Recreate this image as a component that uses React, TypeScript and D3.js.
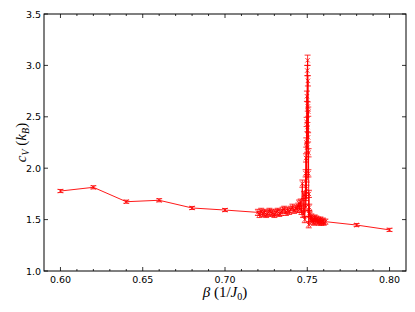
import * as d3 from 'd3';
import React from 'react';

// beta (1/J0) samples: coarse sweep, dense scan around the transition, coarse tail
const betas = [
  0.60, 0.62, 0.64, 0.66, 0.68, 0.70,
  0.720, 0.721, 0.722, 0.723, 0.724, 0.725, 0.726, 0.727, 0.728, 0.729,
  0.730, 0.731, 0.732, 0.733, 0.734, 0.735, 0.736, 0.737, 0.738, 0.739,
  0.740, 0.741, 0.742, 0.743, 0.744,
  0.7445, 0.745, 0.7455, 0.746, 0.7465, 0.747, 0.7475, 0.748, 0.7485,
  0.7490, 0.7491, 0.7492, 0.7493, 0.7494, 0.7495, 0.7496, 0.7497, 0.7498, 0.7499,
  0.7500, 0.7501, 0.7502, 0.7503, 0.7504, 0.7505, 0.7506, 0.7507, 0.7508, 0.7509,
  0.7510, 0.7511, 0.7512,
  0.7515, 0.7520, 0.7525, 0.7530, 0.7535, 0.7540, 0.7545, 0.7550, 0.7555, 0.7560,
  0.7565, 0.7570, 0.7575, 0.7580, 0.7585, 0.7590, 0.7595, 0.7600, 0.7610,
  0.78, 0.80,
];

// specific heat c_V (k_B)
const cv = [
  1.778, 1.814, 1.674, 1.688, 1.613, 1.593,
  1.57, 1.55, 1.58, 1.56, 1.57, 1.55, 1.56, 1.58, 1.57, 1.56,
  1.55, 1.57, 1.58, 1.56, 1.57, 1.59, 1.60, 1.57, 1.59, 1.58,
  1.60, 1.62, 1.59, 1.61, 1.60,
  1.63, 1.66, 1.60, 1.67, 1.58, 1.85, 1.55, 1.74, 1.50,
  1.95, 1.62, 2.10, 1.72, 2.25, 1.80, 2.45, 1.90, 2.70, 2.20,
  2.95, 2.40, 3.05, 2.60, 2.85, 2.30, 2.55, 1.95, 2.15, 1.45,
  1.75, 1.56, 1.62,
  1.55, 1.50, 1.53, 1.48, 1.51, 1.47, 1.52, 1.49, 1.51, 1.48,
  1.50, 1.47, 1.49, 1.50, 1.47, 1.48, 1.49, 1.47, 1.48,
  1.447, 1.400,
];

// error bar half-heights
const cvErr = [
  0.015, 0.015, 0.015, 0.015, 0.015, 0.015,
  0.03, 0.03, 0.03, 0.03, 0.03, 0.03, 0.03, 0.03, 0.03, 0.03,
  0.03, 0.03, 0.03, 0.03, 0.03, 0.03, 0.03, 0.03, 0.03, 0.03,
  0.03, 0.03, 0.03, 0.03, 0.03,
  0.03, 0.03, 0.03, 0.03, 0.03, 0.035, 0.03, 0.035, 0.03,
  0.035, 0.03, 0.04, 0.035, 0.045, 0.035, 0.045, 0.035, 0.05, 0.045,
  0.05, 0.045, 0.05, 0.045, 0.05, 0.045, 0.045, 0.035, 0.04, 0.03,
  0.035, 0.03, 0.03,
  0.025, 0.025, 0.025, 0.025, 0.025, 0.025, 0.025, 0.025, 0.025, 0.025,
  0.025, 0.025, 0.025, 0.025, 0.025, 0.025, 0.025, 0.025, 0.025,
  0.015, 0.015,
];

const xTickLabels = ['0.60', '0.65', '0.70', '0.75', '0.80'];
const yTickLabels = ['1.0', '1.5', '2.0', '2.5', '3.0', '3.5'];

const W = 415;
const H = 312;
const margin = { left: 44, right: 9, top: 14, bottom: 41 };
const RED = '#ff0000';

export default function App() {
  const x = d3.scaleLinear().domain([0.59, 0.81]).range([margin.left, W - margin.right]);
  const y = d3.scaleLinear().domain([1.0, 3.5]).range([H - margin.bottom, margin.top]);
  const x0 = x.range()[0];
  const x1 = x.range()[1];
  const y0 = y.range()[0];
  const y1 = y.range()[1];

  const pts = betas.map((b, i) => ({ b, v: cv[i], e: cvErr[i] }));
  const line = d3
    .line<{ b: number; v: number }>()
    .x(d => x(d.b))
    .y(d => y(d.v));

  const minorX = d3.range(60, 81).map(k => k / 100);
  const majorX = xTickLabels.map(Number);
  const majorY = yTickLabels.map(Number);
  const cap = 3;
  const mk = 2.2;

  return (
    <svg width={W} height={H} style={{ position: 'absolute', left: 0, top: 0, background: '#fff' }}>
      <rect x={0} y={0} width={W} height={H} fill="#fff" />

      {/* series */}
      <g>
        <path d={line(pts) || ''} fill="none" stroke={RED} strokeWidth={1} strokeOpacity={0.9} />
        {pts.map((p, i) => {
          const cx = x(p.b);
          const yt = y(p.v + p.e);
          const yb = y(p.v - p.e);
          const cy = y(p.v);
          return (
            <g key={i} stroke={RED} strokeWidth={1} strokeOpacity={0.8}>
              <line x1={cx} x2={cx} y1={yt} y2={yb} />
              <line x1={cx - cap} x2={cx + cap} y1={yt} y2={yt} />
              <line x1={cx - cap} x2={cx + cap} y1={yb} y2={yb} />
              <line x1={cx - mk} x2={cx + mk} y1={cy - mk} y2={cy + mk} />
              <line x1={cx - mk} x2={cx + mk} y1={cy + mk} y2={cy - mk} />
            </g>
          );
        })}
      </g>

      {/* ticks, pointing inward on all four sides */}
      <g stroke="#000" strokeWidth={0.8}>
        {minorX.map(t => {
          const major = majorX.some(m => Math.abs(m - t) < 1e-9);
          const len = major ? 4 : 2;
          return (
            <g key={t}>
              <line x1={x(t)} x2={x(t)} y1={y0} y2={y0 - len} />
              <line x1={x(t)} x2={x(t)} y1={y1} y2={y1 + len} />
            </g>
          );
        })}
        {majorY.map(t => (
          <g key={t}>
            <line x1={x0} x2={x0 + 4} y1={y(t)} y2={y(t)} />
            <line x1={x1} x2={x1 - 4} y1={y(t)} y2={y(t)} />
          </g>
        ))}
      </g>

      {/* frame */}
      <rect x={x0} y={y1} width={x1 - x0} height={y0 - y1} fill="none" stroke="#000" strokeWidth={1} />

      {/* tick labels */}
      <g fontFamily="DejaVu Sans" fontSize={9.5} fill="#000">
        {xTickLabels.map(t => (
          <text key={t} x={x(Number(t))} y={y0 + 12} textAnchor="middle">
            {t}
          </text>
        ))}
        {yTickLabels.map(t => (
          <text key={t} x={x0 - 3} y={y(Number(t)) + 3.5} textAnchor="end">
            {t}
          </text>
        ))}
      </g>

      {/* axis labels */}
      <text x={(x0 + x1) / 2} y={297} textAnchor="middle" fontFamily="Liberation Serif" fontSize={15} fill="#000">
        <tspan fontStyle="italic">β</tspan>
        <tspan> (1/</tspan>
        <tspan fontStyle="italic">J</tspan>
        <tspan fontSize={10} dy={3}>0</tspan>
        <tspan dy={-3}>)</tspan>
      </text>
      <text
        transform={`translate(26,${(y0 + y1) / 2}) rotate(-90)`}
        textAnchor="middle"
        fontFamily="Liberation Serif"
        fontSize={15}
        fill="#000"
      >
        <tspan fontStyle="italic">c</tspan>
        <tspan fontStyle="italic" fontSize={10} dy={3}>V</tspan>
        <tspan dy={-3}> (</tspan>
        <tspan fontStyle="italic">k</tspan>
        <tspan fontStyle="italic" fontSize={10} dy={3}>B</tspan>
        <tspan dy={-3}>)</tspan>
      </text>
    </svg>
  );
}
